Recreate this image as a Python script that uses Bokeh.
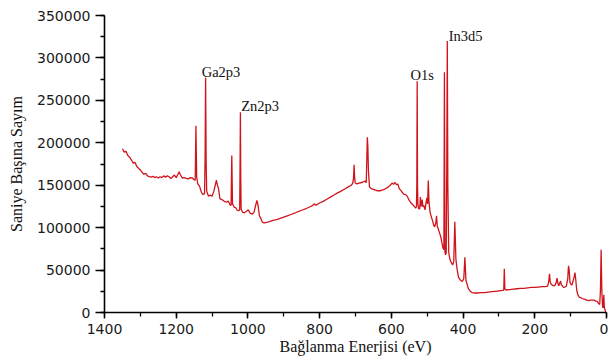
from bokeh.plotting import figure
from bokeh.models import Range1d, SingleIntervalTicker, ColumnDataSource, BasicTickFormatter
from bokeh.embed import file_html
from bokeh.resources import INLINE

# XPS survey spectrum: binding energy (eV) and counts per second
binding_energy = [
    1350, 1345, 1340, 1335, 1330, 1325, 1320, 1315, 1310, 1305, 1300, 1295, 1290, 1285,
    1280, 1275, 1270, 1265, 1260, 1255, 1250, 1245, 1240, 1235, 1230, 1225, 1220, 1215,
    1210, 1205, 1200, 1195, 1192, 1188, 1183, 1178, 1172, 1166, 1160, 1155, 1150,
    1147, 1145, 1143, 1140, 1135, 1130, 1126, 1121, 1119.5, 1118, 1116.5, 1115, 1110,
    1105, 1100, 1095, 1090, 1088, 1085, 1082, 1078, 1072, 1066, 1060, 1055, 1050, 1047,
    1045, 1043, 1038, 1034, 1030, 1026, 1023, 1022, 1021, 1020, 1019, 1015, 1010, 1005,
    999, 994, 988, 983, 978, 975, 972, 968, 964, 960, 955, 950, 940, 930, 920, 910, 900,
    890, 880, 870, 860, 850, 840, 830, 820, 815, 810, 800, 790, 780, 770, 760, 750, 740,
    730, 720, 712, 708, 705.5, 704, 702.5, 701, 696, 690, 680, 674, 670, 668.5, 667,
    665.5, 664, 661, 656, 650, 640, 630, 620, 610, 603, 598, 594, 590, 586, 582, 578,
    572, 566, 560, 555, 550, 545, 540, 535, 532, 530, 529, 528, 527, 526, 524, 521, 519,
    517, 514, 512, 509, 506, 503, 501, 499, 497, 495, 492, 488, 485, 482, 479, 476, 474,
    472, 468, 465, 462, 459, 456, 453.5, 452, 450.5, 449, 447, 445.5, 444, 442.5, 440,
    437, 433, 429, 426, 423, 420, 417, 413, 409, 405, 402, 398, 395, 392, 388, 385, 380,
    375, 370, 360, 350, 340, 330, 320, 310, 300, 290, 286.5, 285, 283.5, 280, 270, 260,
    250, 240, 230, 220, 210, 200, 190, 180, 170, 164, 161, 159, 157, 154, 150, 146, 143,
    140, 138, 136, 133, 131, 128, 126, 123, 120, 116, 112, 108, 106, 104, 102, 99, 96,
    94, 90, 88, 86, 83, 80, 76, 72, 68, 60, 55, 50, 45, 40, 35, 30, 26, 22, 19, 17, 15,
    13, 11, 9, 7.5, 6, 4, 2,
]
counts = [
    193000, 189000, 190000, 185000, 183000, 180000, 176000, 177000, 172000, 170000,
    168000, 165000, 163000, 164000, 161000, 160000, 159500, 160500, 159000, 160000,
    158500, 160000, 159000, 161000, 159500, 161000, 160000, 158000, 160000, 162000,
    159000, 163000, 166000, 162000, 158500, 159000, 158000, 157500, 159000, 158500,
    156500, 156000, 220000, 160000, 151500, 149000, 142000, 139000, 140000, 180000,
    276500, 175000, 143000, 137000, 138500, 137000, 143000, 152000, 156000, 150000,
    146000, 134000, 133000, 131000, 130000, 131500, 127000, 126000, 185000, 128000,
    124000, 123500, 120500, 120000, 121000, 170000, 236000, 160000, 122000, 118000,
    117500, 119000, 121000, 117000, 116000, 118000, 127000, 132000, 127000, 114000,
    111000, 106500, 105500, 106000, 107000, 108500, 109500, 111000, 112500, 114000,
    115500, 117000, 119000, 120500, 122000, 124000, 126000, 128000, 126500, 129000,
    131000, 133500, 136000, 138500, 141000, 143000, 145500, 148000, 150000, 152000,
    158000, 174000, 160000, 153000, 151500, 152500, 153500, 155000, 153000, 180000,
    206500, 195000, 168000, 148000, 146000, 145000, 143500, 143500, 145000, 147500,
    150000, 152500, 151000, 153500, 150500, 151500, 146000, 143000, 139500, 139000,
    136500, 132000, 129000, 127000, 124500, 123000, 125000, 150000, 272500, 150000,
    128000, 122500, 122000, 136000, 125000, 133000, 124500, 126000, 121000, 130000,
    135000, 128000, 155500, 130000, 118000, 112000, 108000, 103000, 101000, 106000,
    114000, 102000, 97000, 93000, 89000, 82000, 76000, 74000, 283000, 72000, 68000,
    70000, 170000, 320000, 150000, 71000, 63000, 59000, 56000, 60000, 107000, 63000,
    52000, 42000, 39000, 37500, 36500, 40000, 65000, 38000, 32000, 28000, 25000, 23500,
    23000, 23000, 23500, 23500, 24000, 24500, 25000, 25500, 26000, 26500, 51500, 28000,
    26500, 27000, 27500, 28000, 28500, 28500, 29000, 29500, 29500, 30000, 30500, 30500,
    31000, 37000, 45500, 36000, 33000, 32000, 31500, 32500, 36000, 40500, 35000, 31500,
    34000, 37000, 32500, 31500, 29500, 30000, 31000, 40000, 55000, 50000, 36000, 33000,
    32500, 36000, 42000, 47000, 40000, 26000, 21000, 18000, 17500, 16500, 15500, 14500,
    14000, 14500, 14500, 14500, 13500, 13000, 10500, 9500, 25000, 74000, 26000, 7000,
    5500, 21000, 6000, 3000, 500,
]

# Peak annotations
peak_labels = ["Ga2p3", "Zn2p3", "O1s", "In3d5"]
label_energy = [1075, 966, 514, 393]
label_counts = [284000, 243000, 280000, 326000]

p = figure(
    frame_width=502, frame_height=297,
    min_border_left=104, min_border_right=2, min_border_top=15, min_border_bottom=40,
    x_range=Range1d(1400, 0), y_range=Range1d(0, 350000),
    output_backend="svg", toolbar_location=None,
)
p.outline_line_color = None
p.xgrid.visible = False
p.ygrid.visible = False
p.background_fill_color = "white"
p.border_fill_color = "white"

p.line(binding_energy, counts, line_color="#d0141c", line_width=1.3)

src = ColumnDataSource(dict(x=label_energy, y=label_counts, t=peak_labels))
p.text(x="x", y="y", text="t", source=src, text_font="Liberation Serif",
       text_font_size="14.5px", text_align="center", text_baseline="alphabetic",
       text_color="#111111")

for ax in (p.xaxis[0], p.yaxis[0]):
    ax.axis_line_width = 1.6
    ax.axis_line_color = "black"
    ax.major_tick_line_width = 1.5
    ax.minor_tick_line_width = 1.3
    ax.major_tick_in = 0
    ax.minor_tick_in = 0
    ax.major_label_text_font = "DejaVu Sans"
    ax.major_label_text_font_size = "14px"
    ax.major_label_text_color = "#1a1a1a"
    ax.axis_label_text_font = "Liberation Serif"
    ax.axis_label_text_font_style = "normal"
    ax.axis_label_text_font_size = "16px"
    ax.axis_label_text_color = "#111111"

p.xaxis.ticker = SingleIntervalTicker(interval=200, num_minor_ticks=2)
p.yaxis.ticker = SingleIntervalTicker(interval=50000, num_minor_ticks=2)
p.yaxis.formatter = BasicTickFormatter(use_scientific=False)
p.xaxis.formatter = BasicTickFormatter(use_scientific=False)
p.xaxis.major_tick_out = 6
p.xaxis.minor_tick_out = 4
p.yaxis.major_tick_out = 9
p.yaxis.minor_tick_out = 4
p.xaxis.major_label_standoff = 5
p.yaxis.major_label_standoff = 5
p.xaxis.axis_label = "Bağlanma Enerjisi (eV)"
p.yaxis.axis_label = "Saniye Başına Sayım"
p.xaxis.axis_label_standoff = 1
p.yaxis.axis_label_standoff = 9

open("out.html", "w").write(file_html(p, INLINE))
